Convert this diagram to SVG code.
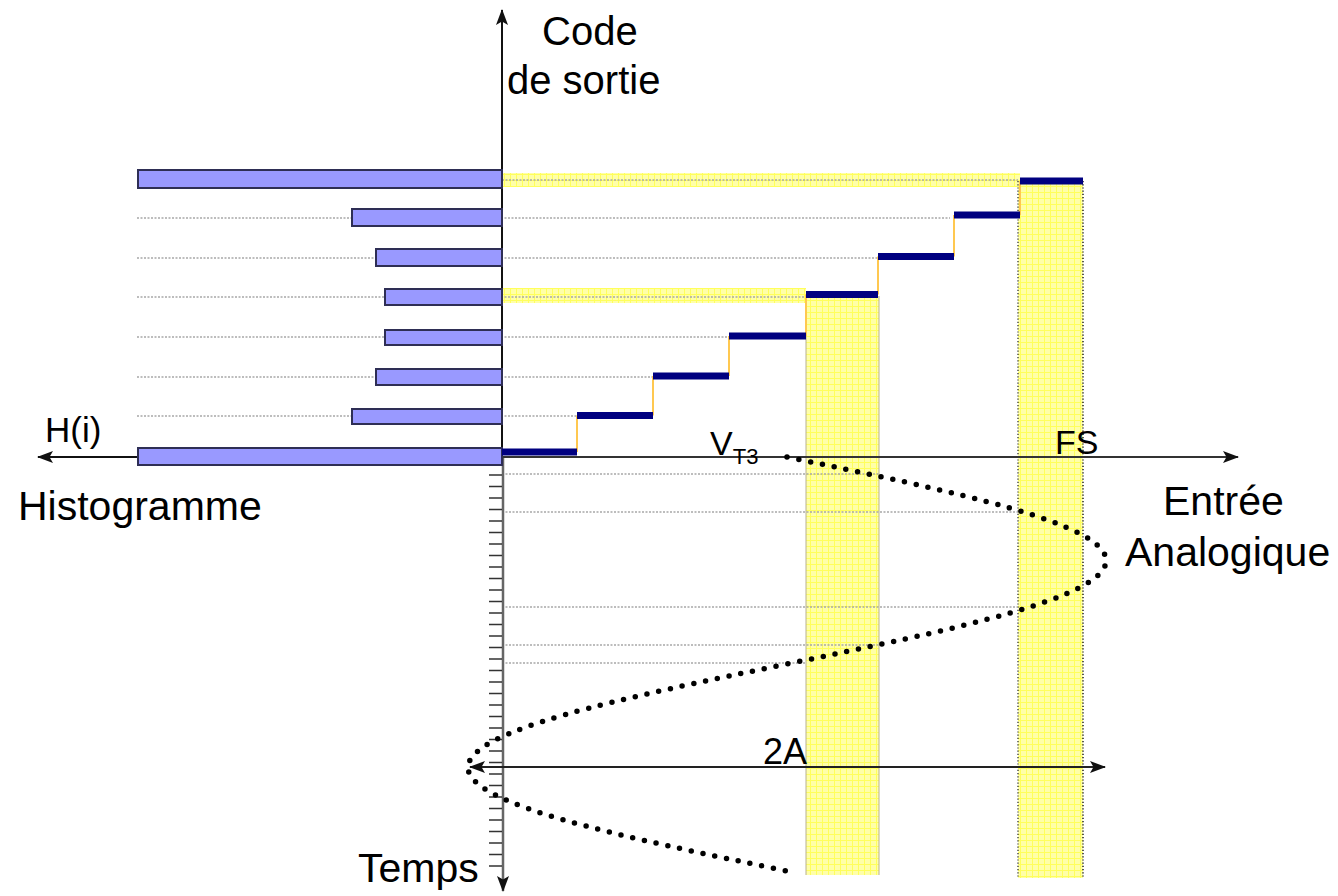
<svg xmlns="http://www.w3.org/2000/svg" width="1338" height="896" viewBox="0 0 1338 896">
  <style>
    .lbl { font-family: "Liberation Sans", Arial, sans-serif; fill: #000; }
    .bar { fill: #9999ff; stroke: #2e2e55; stroke-width: 2; }
    .grid { stroke: #a8a8a8; stroke-width: 1.5; stroke-dasharray: 2 1.5; fill: none; }
    .step { stroke: #000080; stroke-width: 7; fill: none; }
    .riser { stroke: #ffc850; stroke-width: 2; fill: none; }
    .tick { stroke: #333; stroke-width: 1.6; }
  </style>
  <defs>
    <pattern id="ygrid" width="6" height="6" patternUnits="userSpaceOnUse">
      <rect width="6" height="6" fill="#ffffa8"/>
      <path d="M0 0.5H6M0.5 0V6" stroke="#ffff5c" stroke-width="1"/>
    </pattern>
    <marker id="arrTri" viewBox="0 0 16 12" refX="15" refY="6" markerWidth="16" markerHeight="12" markerUnits="userSpaceOnUse" orient="auto-start-reverse">
      <path d="M0 0L16 6L0 12L3.5 6Z" fill="#111"/>
    </marker>
  </defs>

  <!-- highlighted code bands -->
  <g id="bands">
    <rect x="502" y="173" width="518" height="14" fill="url(#ygrid)"/>
    <rect x="502" y="288" width="304" height="15" fill="url(#ygrid)"/>
    <rect x="806" y="296" width="73" height="579" fill="url(#ygrid)"/>
    <line x1="806" y1="296" x2="806" y2="875" stroke="#b8b090" stroke-width="1"/>
    <line x1="879" y1="296" x2="879" y2="875" stroke="#b8b090" stroke-width="1"/>
    <rect x="1018" y="181" width="65" height="697" fill="url(#ygrid)"/>
    <line x1="1018" y1="181" x2="1018" y2="878" stroke="#222" stroke-width="1.2" stroke-dasharray="1.2 2"/>
    <line x1="1083" y1="181" x2="1083" y2="878" stroke="#222" stroke-width="1.5" stroke-dasharray="1.2 2"/>
  </g>

  <!-- guide lines -->
  <g id="guides">
    <line class="grid" x1="502" y1="180" x2="1018" y2="180"/>
    <line class="grid" x1="137" y1="218" x2="950" y2="218"/>
    <line class="grid" x1="137" y1="258" x2="878" y2="258"/>
    <line class="grid" x1="137" y1="297" x2="806" y2="297"/>
    <line class="grid" x1="137" y1="337" x2="729" y2="337"/>
    <line class="grid" x1="137" y1="377" x2="653" y2="377"/>
    <line class="grid" x1="137" y1="416" x2="577" y2="416"/>
    <line class="grid" x1="502" y1="474" x2="879" y2="474"/>
    <line class="grid" x1="502" y1="512" x2="1018" y2="512"/>
    <line class="grid" x1="502" y1="607" x2="1018" y2="607"/>
    <line class="grid" x1="502" y1="645" x2="879" y2="645"/>
    <line class="grid" x1="502" y1="663" x2="806" y2="663"/>
  </g>

  <!-- axes -->
  <g id="axes">
    <line x1="502" y1="457" x2="502" y2="10" stroke="#111" stroke-width="2" marker-end="url(#arrTri)"/>
    <line x1="503" y1="457" x2="503" y2="891" stroke="#666" stroke-width="2.5" marker-end="url(#arrTri)"/>
    <line x1="140" y1="457" x2="38" y2="457" stroke="#111" stroke-width="2" marker-end="url(#arrTri)"/>
    <line x1="502" y1="457" x2="1238" y2="457" stroke="#333" stroke-width="2.2" marker-end="url(#arrTri)"/>
    <g id="ticks">
      <path class="tick" d="M489 475H502M489 486.5H502M489 498H502M489 509.5H502M489 521H502M489 532.5H502M489 544H502M489 555.5H502M489 567H502M489 578.5H502M489 590H502M489 601.5H502M489 613H502M489 624.5H502M489 636H502M489 647.5H502M489 659H502M489 670.5H502M489 682H502M489 693.5H502M489 705H502M489 716.5H502M489 728H502M489 739.5H502M489 751H502M489 762.5H502M489 774H502M489 785.5H502M489 797H502M489 808.5H502M489 820H502M489 831.5H502M489 843H502M489 854.5H502M489 866H502"/>
    </g>
  </g>

  <!-- histogram -->
  <g id="histogram">
    <rect class="bar" x="138" y="170" width="364" height="18"/>
    <rect class="bar" x="352" y="209" width="150" height="17"/>
    <rect class="bar" x="376" y="249" width="126" height="17"/>
    <rect class="bar" x="385" y="289" width="117" height="16"/>
    <rect class="bar" x="385" y="330" width="117" height="15"/>
    <rect class="bar" x="376" y="369" width="126" height="16"/>
    <rect class="bar" x="352" y="409" width="150" height="15"/>
    <rect class="bar" x="138" y="448" width="364" height="17"/>
  </g>

  <!-- transfer staircase -->
  <g id="staircase">
    <path class="riser" d="M577 452V415.5M653 415.5V376M729 376V336M806 336V294.5M878 294.5V256.5M954 256.5V215M1020 215V181"/>
    <path class="step" d="M502 452H577M577 415.5H653M653 376H729M729 336H806M806 294.5H878M878 256.5H954M954 215H1020M1020 181H1083"/>
  </g>

  <!-- sinusoidal test signal -->
  <g id="signal">
    <path d="M787 457C950.4 490.8 1106 523 1106 560.5C1106 598 950.4 630.2 787 664C623.6 697.8 468 730 468 767.5C468 805 623.6 837.2 787 871" fill="none" stroke="#000" stroke-width="5.5" stroke-linecap="round" stroke-dasharray="0 12"/>
  </g>

  <!-- amplitude span -->
  <g id="span">
    <line x1="470" y1="767" x2="1105" y2="767" stroke="#222" stroke-width="2" marker-start="url(#arrTri)" marker-end="url(#arrTri)"/>
  </g>

  <!-- labels -->
  <g id="labels">
    <text class="lbl" x="542" y="45" font-size="40">Code</text>
    <text class="lbl" x="507" y="94" font-size="40">de sortie</text>
    <text class="lbl" x="45" y="442" font-size="35">H(i)</text>
    <text class="lbl" x="18" y="520" font-size="41">Histogramme</text>
    <text class="lbl" x="1163" y="515" font-size="41">Entrée</text>
    <text class="lbl" x="1125" y="566" font-size="41">Analogique</text>
    <text class="lbl" x="358" y="882" font-size="41">Temps</text>
    <text class="lbl" x="1055" y="454" font-size="34">FS</text>
    <text class="lbl" x="710" y="455" font-size="34">V<tspan font-size="22" dy="9">T3</tspan></text>
    <text class="lbl" x="763" y="764" font-size="36">2A</text>
  </g>
</svg>
